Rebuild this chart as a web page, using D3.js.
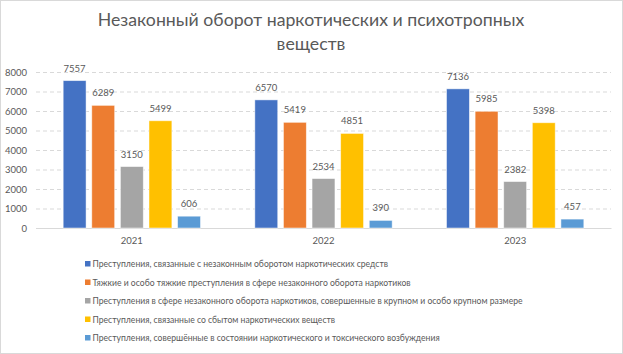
<!DOCTYPE html>
<html>
<head>
<meta charset="utf-8">
<script src="https://cdn.jsdelivr.net/npm/d3@7"></script>
<style>
  body { margin: 0; background: #fff; }
  text { font-family: Lato, "Open Sans", sans-serif; fill: #595959; }
</style>
</head>
<body>
<svg id="chart" width="623" height="354"></svg>
<script>
const years = ['2021', '2022', '2023'];
const seriesNames = [
  'Преступления, связанные с незаконным оборотом наркотических средств',
  'Тяжкие и особо тяжкие преступления в сфере незаконного оборота наркотиков',
  'Преступления в сфере незаконного оборота наркотиков, совершенные в крупном и особо крупном размере',
  'Преступления, связанные со сбытом наркотических веществ',
  'Преступления, совершённые в состоянии наркотического и токсического возбуждения'
];
const seriesColors = ['#4472C4', '#ED7D31', '#A5A5A5', '#FFC000', '#5B9BD5'];
const values2021 = [7557, 6289, 3150, 5499, 606];
const values2022 = [6570, 5419, 2534, 4851, 390];
const values2023 = [7136, 5985, 2382, 5398, 457];
const yTicks = [0, 1000, 2000, 3000, 4000, 5000, 6000, 7000, 8000];

const valuesByYear = [values2021, values2022, values2023];
const data = [];
years.forEach((y, i) => {
  valuesByYear[i].forEach((v, j) => data.push({ year: y, series: j, value: v }));
});

const svg = d3.select('#chart');
const width = 623, height = 354;

svg.append('rect')
  .attr('x', 0.5).attr('y', 0.5)
  .attr('width', width - 1).attr('height', height - 1)
  .attr('fill', '#fff')
  .attr('stroke', '#d9d9d9');

const margin = { left: 36, right: 12, top: 72, bottom: 126 };
const innerWidth = width - margin.left - margin.right;
const innerHeight = 228 - margin.top;

// title
const title = svg.append('text')
  .attr('text-anchor', 'middle')
  .style('font-size', '17.7px');
title.append('tspan').attr('x', 311).attr('y', 26).text('Незаконный оборот наркотических и психотропных');
title.append('tspan').attr('x', 311).attr('y', 50).text('веществ');

const g = svg.append('g')
  .attr('transform', `translate(${margin.left},${margin.top})`);

const xScale = d3.scaleBand()
  .domain(years)
  .range([0, innerWidth]);

const xInner = d3.scaleBand()
  .domain(d3.range(seriesNames.length))
  .range([0, xScale.bandwidth()])
  .paddingInner(0.2)
  .paddingOuter(0.95);

const yScale = d3.scaleLinear()
  .domain([0, 8000])
  .range([innerHeight, 0]);

const yAxis = d3.axisLeft(yScale)
  .tickValues(yTicks)
  .tickFormat(d3.format('d'))
  .tickSize(-innerWidth)
  .tickPadding(9);

const yAxisG = g.append('g').attr('class', 'yAxis').call(yAxis);
yAxisG.select('.domain').remove();
yAxisG.selectAll('.tick line')
  .attr('stroke', '#d9d9d9')
  .attr('stroke-dasharray', d => d === 0 ? null : '4,3');
yAxisG.selectAll('.tick text')
  .style('font-size', '9.5px')
  .attr('fill', '#595959');

const xAxis = d3.axisBottom(xScale).tickSize(0).tickPadding(9);
const xAxisG = g.append('g')
  .attr('class', 'xAxis')
  .attr('transform', `translate(0,${innerHeight})`)
  .call(xAxis);
xAxisG.select('.domain').attr('stroke', '#d9d9d9');
xAxisG.selectAll('.tick text')
  .style('font-size', '9.5px')
  .attr('fill', '#595959');

const groups = g.selectAll('.yearG').data(years)
  .enter().append('g')
  .attr('class', 'yearG')
  .attr('transform', d => `translate(${xScale(d)},0)`);

groups.selectAll('rect')
  .data(y => data.filter(d => d.year === y))
  .enter().append('rect')
  .attr('x', d => xInner(d.series))
  .attr('width', xInner.bandwidth())
  .attr('y', d => yScale(d.value))
  .attr('height', d => innerHeight - yScale(d.value))
  .attr('fill', d => seriesColors[d.series])
  .attr('stroke', '#fff')
  .attr('stroke-opacity', 0.6)
  .attr('stroke-width', 0.8);

groups.selectAll('.label')
  .data(y => data.filter(d => d.year === y))
  .enter().append('text')
  .attr('class', 'label')
  .attr('text-anchor', 'middle')
  .attr('x', d => xInner(d.series) + xInner.bandwidth() / 2)
  .attr('y', d => yScale(d.value) - 9)
  .style('font-size', '9.5px')
  .text(d => d.value);

// legend
const legend = svg.append('g').attr('transform', 'translate(85,264)');
const item = legend.selectAll('.item').data(seriesNames)
  .enter().append('g')
  .attr('class', 'item')
  .attr('transform', (d, i) => `translate(0,${i * 18.5})`);
item.append('rect')
  .attr('x', 0).attr('y', -3)
  .attr('width', 5.5).attr('height', 5.5)
  .attr('fill', (d, i) => seriesColors[i]);
item.append('text')
  .attr('x', 7.5)
  .attr('y', 3)
  .style('font-size', '8.6px')
  .text(d => d);
</script>
</body>
</html>
